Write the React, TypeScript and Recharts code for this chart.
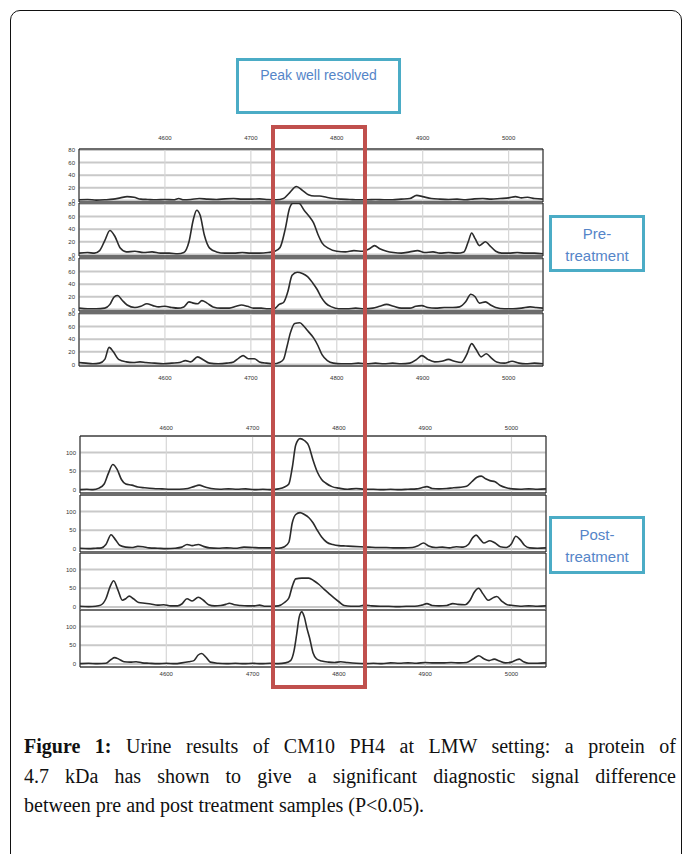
import { LineChart, Line, XAxis, YAxis, CartesianGrid, ReferenceArea } from 'recharts'

type Trace = [number, number][]

const MASS_DOMAIN: [number, number] = [4500, 5040]
const MASS_TICKS = [4600, 4700, 4800, 4900, 5000]
const PRE_Y_TICKS = [0, 20, 40, 60, 80]
const POST_Y_TICKS = [0, 50, 100]
const PRE_Y_DOMAIN: [number, number] = [-2.5, 81.5]
const POST_Y_DOMAIN: [number, number] = [-8, 144]

// pre-treatment spectra, [m/z, intensity]
const PRE_1: Trace = [
  [4500, 1], [4510, 1.5], [4520, 0.5], [4530, 1], [4540, 2], [4548, 4], [4556, 6], [4564, 5], [4572, 2], [4580, 1.5],
  [4590, 1], [4600, 1.5], [4610, 1], [4616, 3], [4622, 1], [4630, 1.5], [4640, 3], [4650, 2], [4660, 1.5], [4670, 2.5],
  [4680, 3], [4690, 2], [4700, 2], [4710, 2.5], [4720, 1.5], [4730, 1], [4738, 3], [4745, 12], [4753, 22], [4760, 16],
  [4767, 9], [4774, 7], [4780, 7], [4788, 5], [4796, 3], [4805, 2], [4815, 1.5], [4825, 1], [4835, 1], [4845, 1.5],
  [4855, 1], [4865, 1], [4875, 2], [4885, 3], [4893, 8], [4900, 6], [4910, 3], [4920, 2], [4930, 1.5], [4940, 2],
  [4950, 1], [4960, 2.5], [4970, 3], [4980, 2], [4990, 3], [5000, 4], [5008, 6], [5015, 4], [5022, 5], [5030, 3], [5040, 2],
]
const PRE_2: Trace = [
  [4500, 2], [4510, 3], [4518, 2], [4524, 6], [4530, 22], [4536, 38], [4542, 28], [4548, 10], [4555, 4], [4565, 5],
  [4575, 3], [4585, 4], [4595, 2], [4605, 2], [4615, 1], [4622, 3], [4628, 20], [4633, 55], [4637, 70], [4641, 62],
  [4646, 30], [4652, 10], [4660, 4], [4670, 2], [4680, 2], [4690, 3], [4700, 2], [4710, 2], [4720, 3], [4728, 5],
  [4734, 11], [4740, 40], [4745, 73], [4749, 81], [4756, 81], [4762, 70], [4768, 60], [4773, 50], [4778, 32], [4783, 18],
  [4790, 10], [4800, 5], [4810, 4], [4820, 6], [4830, 5], [4838, 9], [4844, 14], [4850, 9], [4858, 5], [4866, 3],
  [4875, 2], [4885, 4], [4894, 6], [4902, 3], [4912, 4], [4920, 2], [4930, 3], [4940, 2], [4948, 4], [4953, 20],
  [4957, 34], [4961, 25], [4966, 14], [4973, 20], [4978, 14], [4985, 5], [4992, 2], [5000, 2], [5010, 3], [5020, 2],
  [5030, 2], [5040, 1],
]
const PRE_3: Trace = [
  [4500, 2], [4510, 1], [4520, 1], [4530, 2], [4536, 8], [4541, 20], [4545, 22], [4550, 15], [4556, 7], [4565, 3],
  [4572, 5], [4579, 9], [4586, 6], [4593, 4], [4600, 5], [4608, 3], [4615, 2], [4622, 4], [4628, 12], [4633, 10],
  [4638, 9], [4643, 14], [4649, 10], [4656, 4], [4665, 2], [4675, 2], [4683, 5], [4689, 7], [4696, 5], [4703, 2],
  [4712, 2], [4720, 1], [4727, 1], [4733, 8], [4738, 11], [4743, 28], [4748, 54], [4754, 59], [4760, 57], [4766, 52],
  [4772, 42], [4777, 32], [4782, 19], [4787, 10], [4794, 4], [4802, 1], [4812, 1], [4822, 2], [4832, 1], [4842, 2],
  [4850, 5], [4858, 8], [4866, 5], [4875, 2], [4885, 2], [4892, 5], [4899, 6], [4906, 3], [4915, 2], [4925, 3],
  [4935, 3], [4943, 4], [4950, 12], [4956, 24], [4961, 20], [4966, 10], [4973, 12], [4979, 7], [4985, 3], [4995, 1],
  [5005, 1], [5015, 2], [5025, 4], [5032, 3], [5040, 2],
]
const PRE_4: Trace = [
  [4500, 3], [4508, 2], [4516, 1], [4524, 2], [4530, 8], [4535, 27], [4540, 20], [4546, 8], [4555, 4], [4563, 3],
  [4571, 4], [4578, 3], [4588, 2], [4598, 1], [4608, 2], [4617, 3], [4624, 6], [4630, 4], [4638, 12], [4645, 7],
  [4652, 2], [4662, 1], [4672, 2], [4680, 4], [4686, 10], [4691, 14], [4697, 9], [4704, 9], [4710, 4], [4718, 2],
  [4727, 1], [4733, 3], [4738, 8], [4742, 28], [4746, 50], [4751, 65], [4757, 66], [4762, 60], [4767, 52], [4773, 42],
  [4778, 30], [4783, 15], [4789, 6], [4796, 2], [4805, 1], [4815, 1], [4825, 2], [4835, 1], [4845, 2], [4855, 1],
  [4865, 2], [4875, 1], [4885, 2], [4893, 8], [4899, 14], [4906, 8], [4914, 4], [4922, 5], [4930, 8], [4937, 5],
  [4945, 3], [4951, 15], [4957, 33], [4962, 24], [4968, 12], [4974, 17], [4980, 10], [4986, 4], [4995, 2], [5004, 5],
  [5012, 2], [5020, 1], [5030, 2], [5040, 1],
]

// post-treatment spectra
const POST_1: Trace = [
  [4500, 1], [4508, 2], [4515, 1], [4522, 5], [4528, 16], [4533, 45], [4538, 68], [4543, 55], [4548, 28], [4553, 16],
  [4560, 13], [4567, 8], [4575, 6], [4585, 4], [4595, 3], [4605, 2], [4615, 2], [4625, 4], [4632, 9], [4638, 13],
  [4645, 8], [4652, 4], [4662, 2], [4672, 3], [4682, 2], [4692, 3], [4702, 1], [4712, 2], [4722, 1], [4730, 3],
  [4737, 8], [4742, 16], [4746, 60], [4750, 120], [4755, 137], [4760, 132], [4765, 118], [4770, 80], [4775, 48], [4780, 28],
  [4785, 18], [4792, 9], [4800, 5], [4810, 2], [4820, 4], [4830, 2], [4840, 2], [4850, 1], [4860, 2], [4870, 1],
  [4880, 2], [4890, 3], [4896, 6], [4902, 9], [4908, 4], [4916, 3], [4925, 4], [4933, 6], [4940, 7], [4948, 10],
  [4954, 22], [4960, 34], [4965, 37], [4970, 30], [4975, 25], [4981, 22], [4987, 12], [4994, 6], [5001, 3], [5010, 2],
  [5020, 3], [5030, 2], [5040, 3],
]
const POST_2: Trace = [
  [4500, 2], [4510, 1], [4518, 2], [4525, 3], [4530, 12], [4536, 38], [4541, 25], [4546, 10], [4553, 5], [4560, 4],
  [4567, 7], [4573, 6], [4580, 3], [4590, 2], [4600, 1], [4610, 2], [4618, 5], [4624, 12], [4630, 9], [4637, 12],
  [4643, 7], [4650, 3], [4660, 2], [4670, 3], [4680, 2], [4690, 5], [4700, 4], [4710, 3], [4720, 3], [4730, 2],
  [4737, 6], [4742, 18], [4746, 70], [4750, 92], [4755, 97], [4760, 92], [4765, 84], [4770, 70], [4775, 50], [4780, 32],
  [4786, 18], [4793, 12], [4800, 9], [4808, 8], [4816, 7], [4825, 6], [4835, 5], [4845, 4], [4855, 4], [4865, 3],
  [4875, 3], [4885, 4], [4892, 9], [4898, 16], [4904, 8], [4912, 4], [4920, 5], [4928, 3], [4936, 6], [4944, 5],
  [4950, 12], [4955, 30], [4959, 37], [4964, 25], [4968, 16], [4975, 22], [4981, 16], [4987, 6], [4994, 4], [5000, 14],
  [5005, 34], [5010, 25], [5015, 10], [5021, 3], [5030, 2], [5040, 3],
]
const POST_3: Trace = [
  [4500, 2], [4510, 1], [4518, 2], [4524, 5], [4530, 22], [4535, 55], [4539, 70], [4544, 45], [4549, 18], [4553, 22],
  [4557, 29], [4562, 22], [4568, 12], [4575, 10], [4582, 8], [4590, 5], [4597, 6], [4605, 3], [4613, 3], [4618, 8],
  [4624, 22], [4630, 16], [4637, 26], [4643, 18], [4649, 6], [4656, 3], [4663, 4], [4669, 7], [4673, 10], [4679, 6],
  [4686, 4], [4694, 3], [4702, 3], [4708, 5], [4715, 2], [4722, 2], [4730, 3], [4737, 12], [4742, 24], [4746, 55],
  [4750, 75], [4757, 77], [4765, 77], [4771, 70], [4777, 60], [4783, 47], [4788, 37], [4794, 25], [4800, 14], [4806, 4],
  [4814, 2], [4822, 2], [4830, 5], [4838, 3], [4848, 2], [4858, 2], [4868, 1], [4878, 2], [4888, 2], [4896, 5],
  [4902, 9], [4908, 4], [4916, 3], [4925, 4], [4932, 9], [4938, 7], [4946, 6], [4952, 18], [4957, 40], [4962, 50],
  [4967, 35], [4973, 18], [4979, 25], [4983, 28], [4989, 15], [4995, 6], [5002, 4], [5010, 2], [5020, 3], [5030, 2],
  [5040, 3],
]
const POST_4: Trace = [
  [4500, 1], [4510, 2], [4520, 1], [4530, 2], [4536, 12], [4540, 17], [4545, 13], [4551, 6], [4558, 5], [4565, 6],
  [4572, 3], [4580, 2], [4590, 1], [4600, 2], [4610, 1], [4618, 3], [4626, 6], [4632, 9], [4637, 24], [4641, 28],
  [4646, 18], [4651, 5], [4660, 2], [4670, 1], [4680, 2], [4690, 1], [4700, 2], [4710, 1], [4720, 2], [4730, 1],
  [4738, 3], [4744, 9], [4748, 35], [4751, 78], [4754, 125], [4757, 139], [4760, 125], [4763, 95], [4766, 70], [4770, 30],
  [4774, 14], [4780, 8], [4788, 5], [4795, 4], [4802, 6], [4810, 4], [4820, 2], [4830, 1], [4840, 2], [4850, 1],
  [4860, 3], [4870, 2], [4880, 3], [4890, 2], [4900, 4], [4910, 3], [4920, 3], [4930, 4], [4940, 3], [4948, 4],
  [4956, 14], [4962, 22], [4968, 14], [4974, 9], [4980, 13], [4986, 8], [4993, 3], [5000, 5], [5005, 10], [5009, 13],
  [5014, 6], [5020, 2], [5030, 2], [5040, 3],
]

const tickStyle = { fontSize: 6, fill: '#333', fontFamily: 'Liberation Sans' }

interface PanelProps {
  trace: Trace
  left: number
  top: number
  plotW: number
  plotH: number
  yDomain: [number, number]
  yTicks: number[]
  axis?: 'top' | 'bottom'
  axisH?: number
  axisGap?: number
}

function Panel({ trace, left, top, plotW, plotH, yDomain, yTicks, axis, axisH = 14, axisGap = 4 }: PanelProps) {
  const yw = 24
  const data = trace.map(([m, v]) => ({ m, v }))
  const h = plotH + (axis ? axisH : 0)
  return (
    <div style={{ position: 'absolute', left: left - yw, top: axis === 'top' ? top - axisH : top }}>
      <LineChart width={yw + plotW} height={h} data={data} margin={{ top: 0, right: 0, bottom: 0, left: 0 }}>
        <CartesianGrid vertical={false} stroke="#c9c9c9" strokeWidth={2} />
        <CartesianGrid horizontal={false} stroke="#d6d6d6" strokeWidth={1.2} />
        <XAxis
          dataKey="m"
          type="number"
          domain={MASS_DOMAIN}
          ticks={MASS_TICKS}
          hide={!axis}
          orientation={axis ?? 'bottom'}
          height={axis ? axisH : 0}
          tickSize={0}
          tickMargin={axisGap}
          axisLine={false}
          tick={tickStyle}
          interval={0}
          allowDataOverflow
        />
        <YAxis
          type="number"
          domain={yDomain}
          ticks={yTicks}
          width={yw}
          tickSize={0}
          tickMargin={4}
          axisLine={false}
          tick={tickStyle}
          interval={0}
          allowDataOverflow
        />
        <ReferenceArea
          x1={MASS_DOMAIN[0]}
          x2={MASS_DOMAIN[1]}
          y1={yDomain[0]}
          y2={yDomain[1]}
          fill="none"
          stroke="#111"
          strokeWidth={1}
          ifOverflow="visible"
        />
        <Line dataKey="v" type="monotone" stroke="#2b2b2b" strokeWidth={1.6} dot={false} isAnimationActive={false} />
      </LineChart>
    </div>
  )
}

const calloutBox = {
  position: 'absolute' as const,
  border: '3px solid #4bacc6',
  boxSizing: 'border-box' as const,
  background: '#fff',
  color: '#5585c8',
  fontFamily: 'Liberation Sans',
  textAlign: 'center' as const,
}

export default function App() {
  return (
    <div style={{ position: 'absolute', left: 0, top: 0, width: 683, height: 854, overflow: 'hidden', background: '#fff' }}>
      <style>{'.recharts-surface { overflow: visible; }'}</style>
      <div
        style={{
          position: 'absolute',
          left: 10,
          top: 10,
          width: 672,
          height: 900,
          border: '1.5px solid #111',
          borderRadius: 10,
          boxSizing: 'border-box',
        }}
      />

      <div style={{ ...calloutBox, left: 236, top: 58, width: 165, height: 56, fontSize: 14, paddingTop: 6 }}>
        Peak well resolved
      </div>

      <Panel trace={PRE_1} left={79} top={149} plotW={464} plotH={53} yDomain={PRE_Y_DOMAIN} yTicks={PRE_Y_TICKS} axis="top" axisH={14} axisGap={9} />
      <Panel trace={PRE_2} left={79} top={203} plotW={464} plotH={53} yDomain={PRE_Y_DOMAIN} yTicks={PRE_Y_TICKS} />
      <Panel trace={PRE_3} left={79} top={258} plotW={464} plotH={53} yDomain={PRE_Y_DOMAIN} yTicks={PRE_Y_TICKS} />
      <Panel trace={PRE_4} left={79} top={313} plotW={464} plotH={53} yDomain={PRE_Y_DOMAIN} yTicks={PRE_Y_TICKS} axis="bottom" axisH={16} axisGap={10} />

      <Panel trace={POST_1} left={80} top={436} plotW={466} plotH={57} yDomain={POST_Y_DOMAIN} yTicks={POST_Y_TICKS} axis="top" axisH={14} axisGap={6} />
      <Panel trace={POST_2} left={80} top={495} plotW={466} plotH={57} yDomain={POST_Y_DOMAIN} yTicks={POST_Y_TICKS} />
      <Panel trace={POST_3} left={80} top={553} plotW={466} plotH={57} yDomain={POST_Y_DOMAIN} yTicks={POST_Y_TICKS} />
      <Panel trace={POST_4} left={80} top={610} plotW={466} plotH={57} yDomain={POST_Y_DOMAIN} yTicks={POST_Y_TICKS} axis="bottom" axisH={14} axisGap={5} />

      <div
        style={{
          position: 'absolute',
          left: 271,
          top: 125,
          width: 96,
          height: 564,
          border: '4px solid #c0504d',
          boxSizing: 'border-box',
        }}
      />

      <div style={{ ...calloutBox, left: 549, top: 215, width: 96, height: 57, fontSize: 15, lineHeight: '22px', paddingTop: 5 }}>
        Pre-
        <br />
        treatment
      </div>
      <div style={{ ...calloutBox, left: 549, top: 516, width: 96, height: 58, fontSize: 15, lineHeight: '22px', paddingTop: 5 }}>
        Post-
        <br />
        treatment
      </div>

      <div
        style={{
          position: 'absolute',
          left: 24,
          top: 732,
          width: 652,
          fontFamily: 'Liberation Serif',
          fontSize: 20,
          color: '#111',
          lineHeight: '29.5px',
        }}
      >
        <div style={{ textAlign: 'justify', textAlignLast: 'justify' }}>
          <b>Figure 1:</b> Urine results of CM10 PH4 at LMW setting: a protein of
        </div>
        <div style={{ textAlign: 'justify', textAlignLast: 'justify' }}>
          4.7 kDa has shown to give a significant diagnostic signal difference
        </div>
        <div>between pre and post treatment samples (P&lt;0.05).</div>
      </div>
    </div>
  )
}
